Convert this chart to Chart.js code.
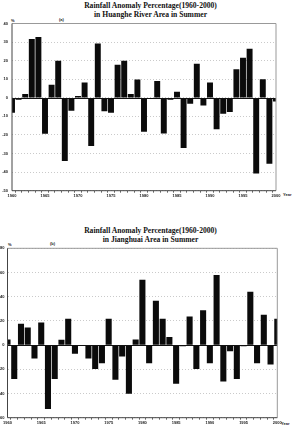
<!DOCTYPE html>
<html><head><meta charset="utf-8">
<script src="https://cdn.jsdelivr.net/npm/chart.js@4/dist/chart.umd.min.js"></script>
<style>
html,body{margin:0;padding:0;background:#fff;width:295px;height:433px;overflow:hidden;position:relative;}
.cv{position:absolute;left:0;}
.t{position:absolute;width:295px;text-align:center;font-family:"Liberation Serif",serif;font-weight:bold;font-size:7.6px;line-height:9.2px;color:#111;white-space:nowrap;}
.s{position:absolute;font-family:"Liberation Sans",Arial,sans-serif;font-weight:bold;font-size:4px;line-height:4px;color:#222;white-space:nowrap;}
</style></head><body>
<div class="t" style="left:3px;top:1px;">Rainfall Anomaly Percentage(1960-2000)<br>in Huanghe River Area in Summer</div>
<div class="s" style="left:11px;top:19px;">%</div>
<div class="s" style="left:59px;top:18px;">(a)</div>
<div class="s" style="left:283px;top:193px;">Year</div>
<div class="cv" style="top:0;width:295px;height:200px;"><canvas id="ca"></canvas></div>

<div class="t" style="left:3px;top:225.5px;">Rainfall Anomaly Percentage(1960-2000)<br>in Jianghuai Area in Summer</div>
<div class="s" style="left:8px;top:243px;">%</div>
<div class="s" style="left:50px;top:242px;">(b)</div>
<div class="s" style="left:281px;top:422px;">Year</div>
<div class="cv" style="top:200px;width:295px;height:233px;"><canvas id="cb"></canvas></div>
<script>
const years = [1960,1961,1962,1963,1964,1965,1966,1967,1968,1969,1970,1971,1972,1973,1974,1975,1976,1977,1978,1979,1980,1981,1982,1983,1984,1985,1986,1987,1988,1989,1990,1991,1992,1993,1994,1995,1996,1997,1998,1999,2000];
const huangheAnomaly = [-8,-1,2,31.7,32.8,-19.4,7,19.9,-34,-7,1,8.3,-26,29.2,-7.2,-8,17.8,20,2,9.9,-18.3,0,9.1,-19.2,-1,3.2,-27,-3.2,18.3,-4.1,8.3,-16.9,-8.6,-7.7,15.4,21.5,26.4,-40.7,10,-35.5,-2];
const jianghuaiAnomaly = [4.7,-28,17.6,14.6,-11,18.7,-52.9,-28,4.4,21.8,-7.2,0,-11,-19.8,-14.9,21.8,-28.6,-9.4,-40.2,4.7,54,-14.9,36.6,21.8,6.6,-32,-1,23.7,-19.8,28.9,-14.9,58,-30,-5,-28,-1,44,-14.9,25,-16,21.8];
const huangheTicks = {min:-50, max:40, step:10};
const jianghuaiTicks = {min:-60, max:80, step:20};

const framePlugin = {
  id:'frame',
  afterDatasetsDraw(chart){
    const {ctx, chartArea:a, scales:{y}} = chart;
    const z = Math.round(y.getPixelForValue(0)) + 0.5;
    ctx.save();
    ctx.lineWidth = 1;
    ctx.strokeStyle = '#111';
    ctx.beginPath(); ctx.moveTo(a.left, z); ctx.lineTo(a.right, z); ctx.stroke();
    ctx.strokeStyle = '#999';
    ctx.beginPath(); ctx.moveTo(a.left, a.top); ctx.lineTo(a.right, a.top); ctx.lineTo(a.right, a.bottom); ctx.stroke();
    ctx.strokeStyle = '#444';
    ctx.beginPath(); ctx.moveTo(a.left, a.top); ctx.lineTo(a.left, a.bottom); ctx.lineTo(a.right, a.bottom); ctx.stroke();
    ctx.restore();
  }
};

function makeChart(id, values, yt, geo){
  const font = {family:'"Liberation Sans", Arial, sans-serif', size:4, weight:'bold'};
  return new Chart(document.getElementById(id), {
    type:'bar',
    data:{labels: years, datasets:[{data: values, backgroundColor:'#0b0b0b', borderWidth:0, barPercentage:0.9, categoryPercentage:1, clip:0}]},
    options:{
      responsive:true, maintainAspectRatio:false, animation:false,
      layout:{padding:{top:geo.top, right:geo.right, left:0, bottom:0}},
      plugins:{legend:{display:false}, tooltip:{enabled:false}, title:{display:false}},
      scales:{
        x:{
          offset:false,
          grid:{display:true, drawOnChartArea:false, drawTicks:true, tickLength:2, tickColor:'#444', tickWidth:0.8},
          border:{display:false},
          ticks:{autoSkip:false, maxRotation:0, minRotation:0, padding:1, font, color:'#222',
            callback:(v,i)=> years[i] % 5 === 0 ? String(years[i]) : ''},
          afterFit:(s)=>{ s.height = geo.xh; }
        },
        y:{
          min:yt.min, max:yt.max,
          grid:{display:true, drawTicks:false, color:'#bdbdbd', lineWidth:0.8},
          border:{display:false, dash:[1,2]},
          ticks:{stepSize:yt.step, padding:geo.yp, font, color:'#222'},
          afterFit:(s)=>{ s.width = geo.left; }
        }
      }
    },
    plugins:[framePlugin]
  });
}
makeChart('ca', huangheAnomaly, huangheTicks, {top:23.5, right:19, left:12, xh:9.3, yp:4});
makeChart('cb', jianghuaiAnomaly, jianghuaiTicks, {top:48.3, right:17.7, left:7.5, xh:15.3, yp:3});
</script>
</body></html>
